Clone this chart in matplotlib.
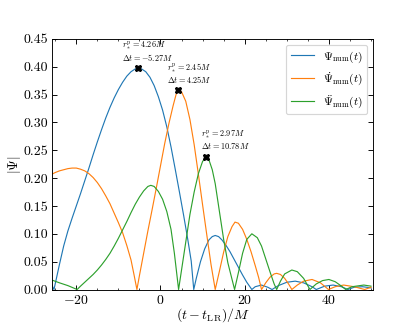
import numpy as np
import matplotlib
matplotlib.use("Agg")
import matplotlib.pyplot as plt
from matplotlib.ticker import MultipleLocator, FormatStrFormatter

plt.rcParams['font.family'] = 'serif'
plt.rcParams['font.serif'] = ['cmr10']
plt.rcParams['mathtext.fontset'] = 'cm'
plt.rcParams['axes.formatter.use_mathtext'] = True
plt.rcParams['axes.unicode_minus'] = True

# |Psi_num(t)|  (blue)
t_psi = [-25.8, -25.3, -24, -23, -22, -21, -20, -19, -18, -17, -16, -15, -14, -13, -12, -11, -10,
         -9, -8, -7, -6, -5.27, -4.5, -3.5, -2.5, -1.5, -0.5, 0.5, 1.5, 2.5, 3.5, 4.5, 5.5, 6.5,
         7.3, 7.9, 8.5, 9.5, 10.5, 11.5, 12.3, 13, 13.8, 14.6, 15.5, 16.5, 17.5, 18.5, 19.5, 20.5,
         21.7, 22.5, 24, 25.5, 26.5, 28, 30, 32, 34, 36, 37, 39, 41, 43, 44.5, 46, 48, 50]
v_psi = [0.008, 0.0, 0.045, 0.078, 0.105, 0.128, 0.15, 0.172, 0.195, 0.218, 0.242, 0.265, 0.287,
         0.308, 0.327, 0.344, 0.359, 0.372, 0.383, 0.391, 0.396, 0.397, 0.396, 0.391, 0.381,
         0.366, 0.346, 0.322, 0.292, 0.256, 0.216, 0.175, 0.133, 0.089, 0.051, 0.0, 0.02, 0.05,
         0.073, 0.089, 0.095, 0.097, 0.095, 0.089, 0.08, 0.068, 0.054, 0.04, 0.026, 0.013, 0.0,
         0.005, 0.008, 0.004, 0.0, 0.007, 0.013, 0.015, 0.012, 0.005, 0.0, 0.006, 0.008, 0.005,
         0.0, 0.004, 0.005, 0.003]

# |dPsi/dt|  (orange)
t_dpsi = [-25.8, -25, -24, -23, -22, -21, -20, -19, -18, -17, -16, -15, -14, -13, -12, -11, -10,
          -9, -8, -7, -6.3, -5.6, -5, -4, -3, -2, -1, 0, 1, 2, 3, 3.7, 4.25, 5, 6, 7, 8, 9, 10,
          11, 12, 13, 14, 15, 16, 17, 17.7, 18.5, 19.5, 20.5, 21.5, 22.5, 23.3, 24, 25, 26, 27,
          27.6, 28.5, 29.5, 30.5, 31.2, 32.5, 34, 36, 38, 39.9, 41.5, 43.5, 46, 48.5, 50]
v_dpsi = [0.207, 0.21, 0.213, 0.215, 0.217, 0.218, 0.218, 0.216, 0.213, 0.208, 0.201, 0.192,
          0.181, 0.168, 0.154, 0.137, 0.12, 0.102, 0.079, 0.053, 0.027, 0.0, 0.025, 0.065, 0.105,
          0.143, 0.182, 0.222, 0.262, 0.298, 0.33, 0.35, 0.358, 0.355, 0.338, 0.305, 0.26, 0.207,
          0.152, 0.098, 0.045, 0.0, 0.033, 0.067, 0.095, 0.113, 0.121, 0.119, 0.108, 0.09, 0.068,
          0.043, 0.022, 0.0, 0.012, 0.022, 0.028, 0.029, 0.027, 0.02, 0.009, 0.0, 0.008, 0.015,
          0.018, 0.012, 0.0, 0.005, 0.008, 0.005, 0.0, 0.004]

# |d2Psi/dt2|  (green)
t_ddpsi = [-25.8, -24, -22, -19.8, -19, -18, -17, -16, -15, -14, -13, -12, -11, -10, -9, -8, -7,
           -6, -5, -4, -3, -2.3, -1.5, -0.5, 0.5, 1.5, 2.5, 3.3, 4.3, 5, 6, 7, 8, 9, 10, 10.78,
           11.5, 12.3, 13, 14, 15, 16, 17, 17.6, 18.5, 19.5, 20.5, 21.7, 23, 24, 25, 26, 27, 27.6,
           28.5, 29.5, 31.2, 32.5, 34, 35.5, 37, 38.5, 40, 41.5, 43, 44, 45.5, 48.3, 50]
v_ddpsi = [0.017, 0.012, 0.007, 0.0, 0.006, 0.013, 0.02, 0.027, 0.035, 0.044, 0.054, 0.065,
           0.078, 0.092, 0.107, 0.122, 0.138, 0.153, 0.166, 0.177, 0.185, 0.187, 0.185, 0.176,
           0.162, 0.14, 0.108, 0.065, 0.0, 0.035, 0.085, 0.135, 0.175, 0.208, 0.23, 0.237, 0.233,
           0.215, 0.19, 0.14, 0.09, 0.048, 0.018, 0.0, 0.03, 0.065, 0.09, 0.10, 0.093, 0.078,
           0.055, 0.032, 0.01, 0.0, 0.015, 0.028, 0.035, 0.032, 0.02, 0.0, 0.01, 0.016, 0.018,
           0.014, 0.006, 0.0, 0.005, 0.008, 0.006]

# peaks
peak_t = [-5.27, 4.25, 10.78]
peak_v = [0.397, 0.358, 0.237]
peak_r = [4.26, 2.45, 2.97]
text_dx = [-16, -11, -5]   # pixels left of the marker

fig = plt.figure(figsize=(5, 4), dpi=83)
ax = fig.add_axes([0.125, 0.128, 0.774, 0.755])

ax.plot(t_psi, v_psi, color='C0', lw=1.0, label=r'$\boldsymbol{\Psi}_{\rm num}(t)$')
ax.plot(t_dpsi, v_dpsi, color='C1', lw=1.0, label=r'$\dot{\boldsymbol{\Psi}}_{\rm num}(t)$')
ax.plot(t_ddpsi, v_ddpsi, color='C2', lw=1.0, label=r'$\ddot{\boldsymbol{\Psi}}_{\rm num}(t)$')

ax.plot(peak_t, peak_v, 'X', color='k', ms=5.5, ls='none')
for t, v, r, dx in zip(peak_t, peak_v, peak_r, text_dx):
    ax.annotate(r'$r_*^{\rm p} = %.2fM$' % r, xy=(t, v), xytext=(dx, 22),
                textcoords='offset pixels', fontsize=7.2, ha='left', va='center')
    ax.annotate(r'$\Delta t = %.2fM$' % t, xy=(t, v), xytext=(dx, 11),
                textcoords='offset pixels', fontsize=7.2, ha='left', va='center')

ax.set_xlim(-25.8, 50.5)
ax.set_ylim(0, 0.45)
ax.xaxis.set_major_locator(MultipleLocator(20))
ax.xaxis.set_minor_locator(MultipleLocator(5))
ax.yaxis.set_major_locator(MultipleLocator(0.05))
ax.yaxis.set_major_formatter(FormatStrFormatter('%.2f'))
ax.tick_params(which='both', direction='in', top=True, right=True, labelsize=12)
ax.tick_params(which='major', length=4)
ax.tick_params(which='minor', length=2)

ax.set_xlabel(r'$(t - t_{\rm LR})/M$', fontsize=12, labelpad=0)
ax.set_ylabel(r'$|\boldsymbol{\Psi}|$', fontsize=12, labelpad=0)
ax.legend(loc='upper right', fontsize=10)

fig.savefig('out.png', dpi=83)
